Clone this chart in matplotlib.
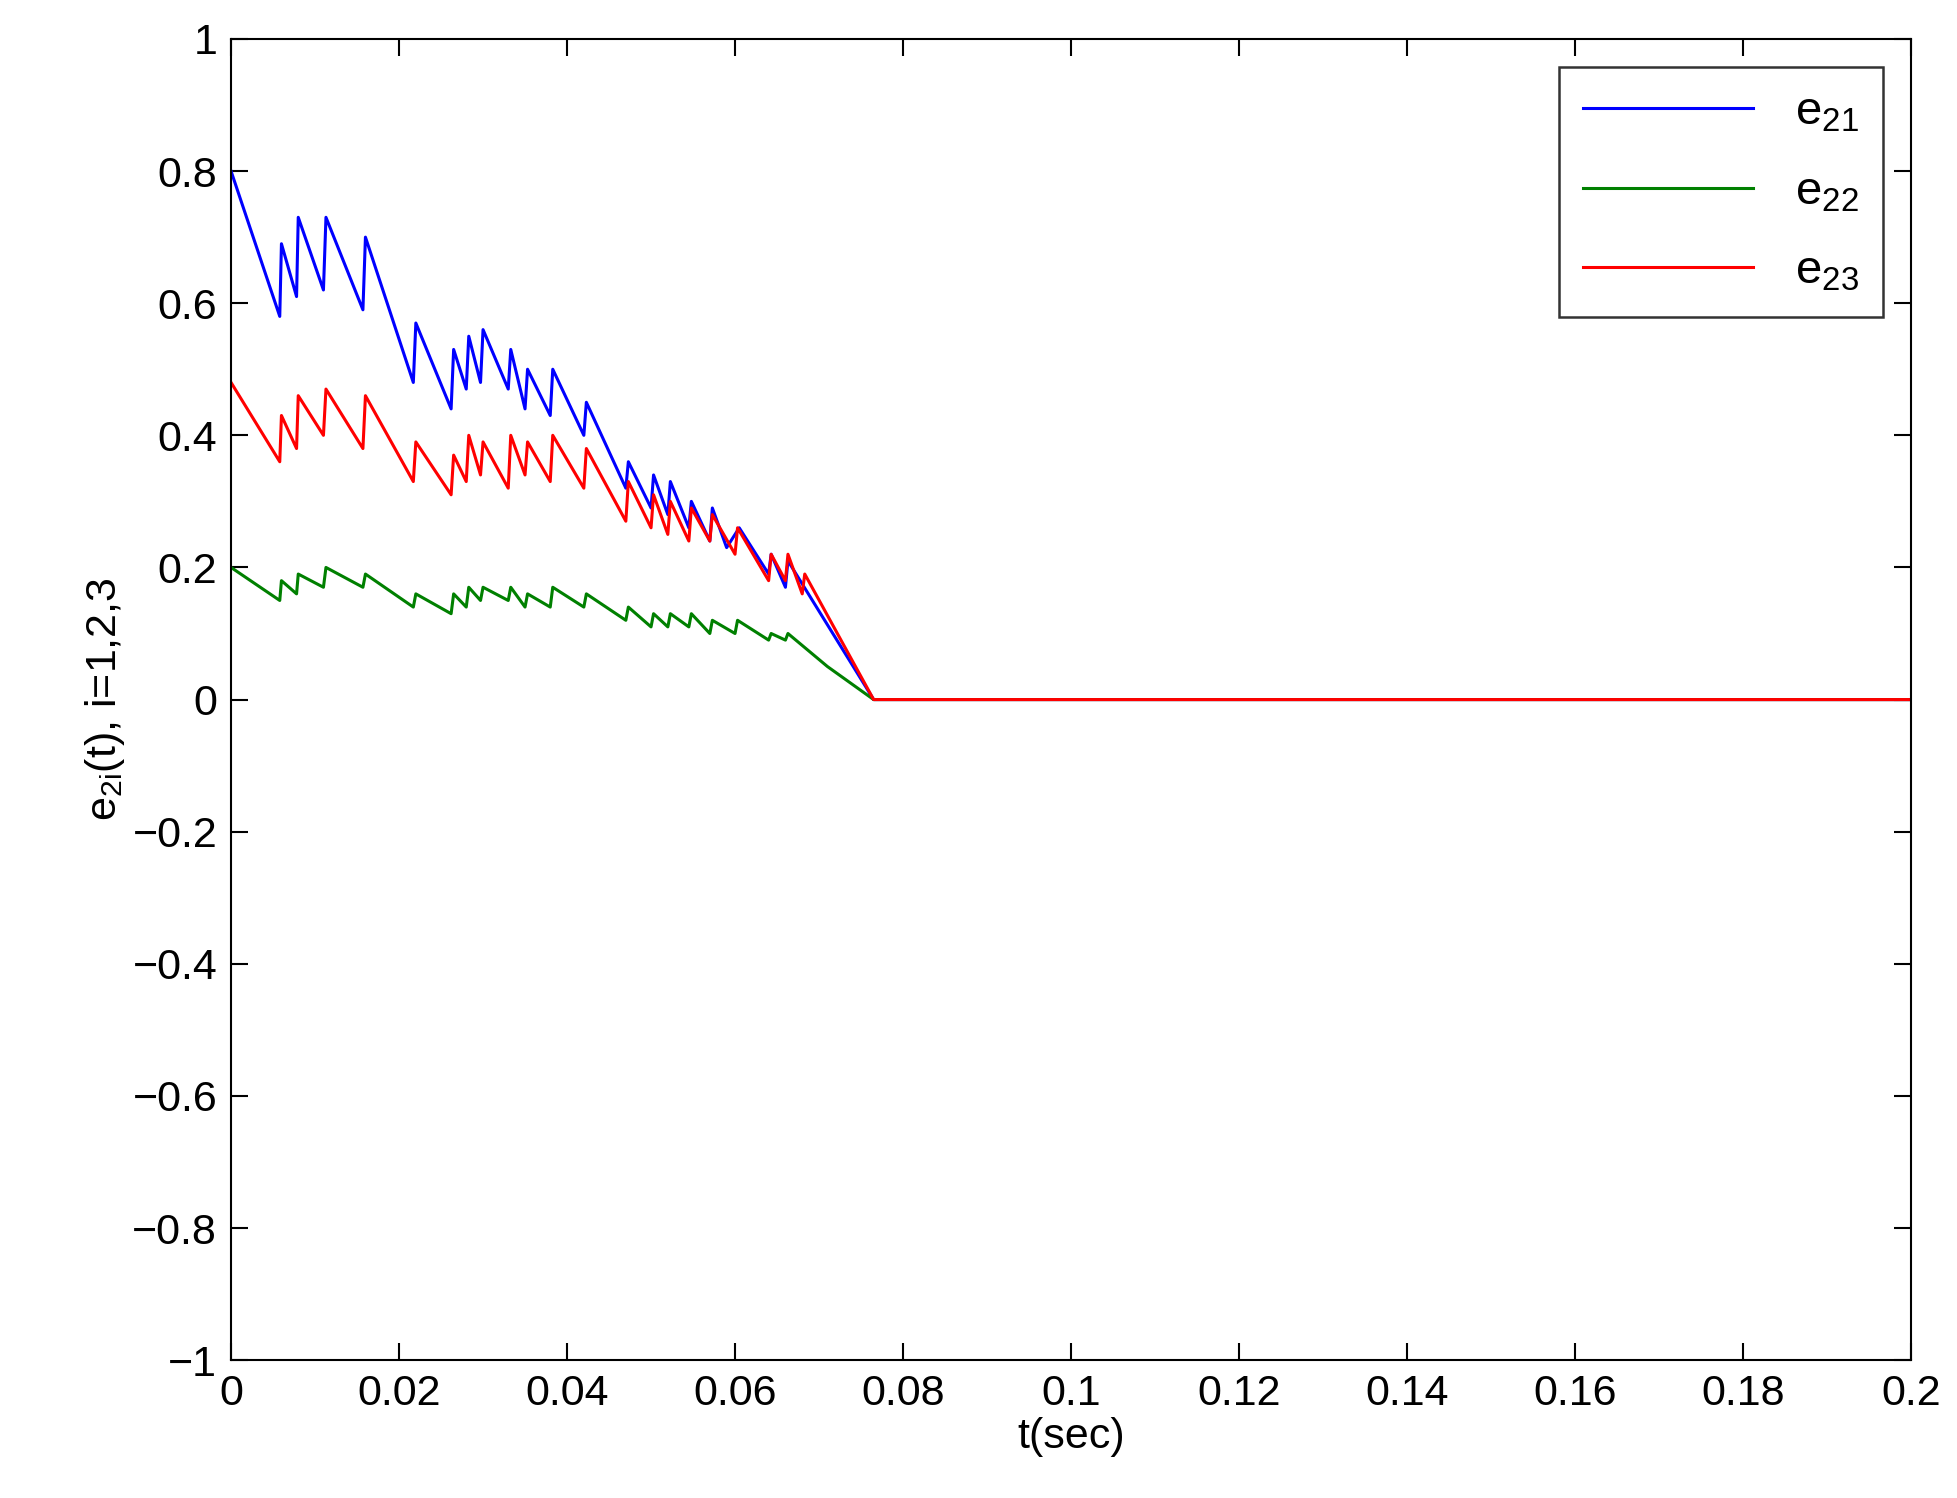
import matplotlib
matplotlib.use("Agg")
import matplotlib.pyplot as plt

plt.rcParams['font.family'] = ['Liberation Sans', 'DejaVu Sans']
plt.rcParams['mathtext.fontset'] = 'custom'
plt.rcParams['mathtext.rm'] = 'Liberation Sans'
plt.rcParams['mathtext.it'] = 'Liberation Sans'

# sawtooth vertices (t, value)
t21 = [0, 0.0058, 0.0060, 0.0078, 0.0080, 0.0110, 0.0113, 0.0157, 0.0160, 0.0217, 0.0220,
       0.0262, 0.0265, 0.0280, 0.0283, 0.0297, 0.0300, 0.0330, 0.0333, 0.0350, 0.0353,
       0.0380, 0.0383, 0.0420, 0.0423, 0.0470, 0.0473, 0.0500, 0.0503, 0.0520, 0.0523,
       0.0545, 0.0548, 0.0570, 0.0573, 0.0590, 0.0605, 0.0640, 0.0643, 0.0660, 0.0663,
       0.0765, 0.2]
e21 = [0.80, 0.58, 0.69, 0.61, 0.73, 0.62, 0.73, 0.59, 0.70, 0.48, 0.57,
       0.44, 0.53, 0.47, 0.55, 0.48, 0.56, 0.47, 0.53, 0.44, 0.50,
       0.43, 0.50, 0.40, 0.45, 0.32, 0.36, 0.29, 0.34, 0.28, 0.33,
       0.26, 0.30, 0.24, 0.29, 0.23, 0.26, 0.19, 0.22, 0.17, 0.21,
       0.0, 0.0]

t23 = [0, 0.0058, 0.006, 0.0078, 0.008, 0.011, 0.0113, 0.0157, 0.016, 0.0217, 0.022,
       0.0262, 0.0265, 0.028, 0.0283, 0.0297, 0.030, 0.033, 0.0333, 0.035, 0.0353,
       0.038, 0.0383, 0.042, 0.0423, 0.047, 0.0473, 0.050, 0.0503, 0.052, 0.0523,
       0.0545, 0.0548, 0.057, 0.0573, 0.060, 0.0603, 0.064, 0.0643, 0.066, 0.0663,
       0.068, 0.0683, 0.0765, 0.2]
e23 = [0.48, 0.36, 0.43, 0.38, 0.46, 0.40, 0.47, 0.38, 0.46, 0.33, 0.39,
       0.31, 0.37, 0.33, 0.40, 0.34, 0.39, 0.32, 0.40, 0.34, 0.39,
       0.33, 0.40, 0.32, 0.38, 0.27, 0.33, 0.26, 0.31, 0.25, 0.30,
       0.24, 0.29, 0.24, 0.28, 0.22, 0.26, 0.18, 0.22, 0.18, 0.22,
       0.16, 0.19, 0.0, 0.0]

t22 = [0, 0.0058, 0.006, 0.0078, 0.008, 0.011, 0.0113, 0.0157, 0.016, 0.0217, 0.022,
       0.0262, 0.0265, 0.028, 0.0283, 0.0297, 0.030, 0.033, 0.0333, 0.035, 0.0353,
       0.038, 0.0383, 0.042, 0.0423, 0.047, 0.0473, 0.050, 0.0503, 0.052, 0.0523,
       0.0545, 0.0548, 0.057, 0.0573, 0.060, 0.0603, 0.064, 0.0643, 0.066, 0.0663,
       0.071, 0.0765, 0.2]
e22 = [0.20, 0.15, 0.18, 0.16, 0.19, 0.17, 0.20, 0.17, 0.19, 0.14, 0.16,
       0.13, 0.16, 0.14, 0.17, 0.15, 0.17, 0.15, 0.17, 0.14, 0.16,
       0.14, 0.17, 0.14, 0.16, 0.12, 0.14, 0.11, 0.13, 0.11, 0.13,
       0.11, 0.13, 0.10, 0.12, 0.10, 0.12, 0.09, 0.10, 0.09, 0.10,
       0.05, 0.0, 0.0]

fig = plt.figure(figsize=(19.58, 14.98), dpi=100)
ax = fig.add_axes([0.118, 0.092, 0.858, 0.882])
ax.plot(t21, e21, color='#0000ff', lw=2.2, label=r'e$_{21}$')
ax.plot(t22, e22, color='#008000', lw=2.2, label=r'e$_{22}$')
ax.plot(t23, e23, color='#ff0000', lw=2.2, label=r'e$_{23}$')

ax.set_xlim(0, 0.2)
ax.set_ylim(-1, 1)
ax.set_xticks([0, 0.02, 0.04, 0.06, 0.08, 0.1, 0.12, 0.14, 0.16, 0.18, 0.2])
ax.set_xticklabels(['0', '0.02', '0.04', '0.06', '0.08', '0.1', '0.12', '0.14', '0.16', '0.18', '0.2'])
ax.set_yticks([-1, -0.8, -0.6, -0.4, -0.2, 0, 0.2, 0.4, 0.6, 0.8, 1])
ax.set_yticklabels(['\u22121', '\u22120.8', '\u22120.6', '\u22120.4', '\u22120.2', '0',
                    '0.2', '0.4', '0.6', '0.8', '1'])
ax.tick_params(direction='in', length=12, width=1.5, labelsize=31, top=True, right=True, pad=10)
for s in ax.spines.values():
    s.set_linewidth(1.5)
ax.set_xlabel('t(sec)', fontsize=31, labelpad=2)
ax.set_ylabel(r'e$_{2i}$(t), i=1,2,3', fontsize=31, labelpad=4)

leg = ax.legend(loc='upper right', fontsize=34, fancybox=False, edgecolor='black',
                handlelength=3.6, borderaxespad=0.6, labelspacing=0.75, handletextpad=0.9,
                borderpad=0.5)
leg.get_frame().set_linewidth(1.8)

fig.savefig('out.png')
